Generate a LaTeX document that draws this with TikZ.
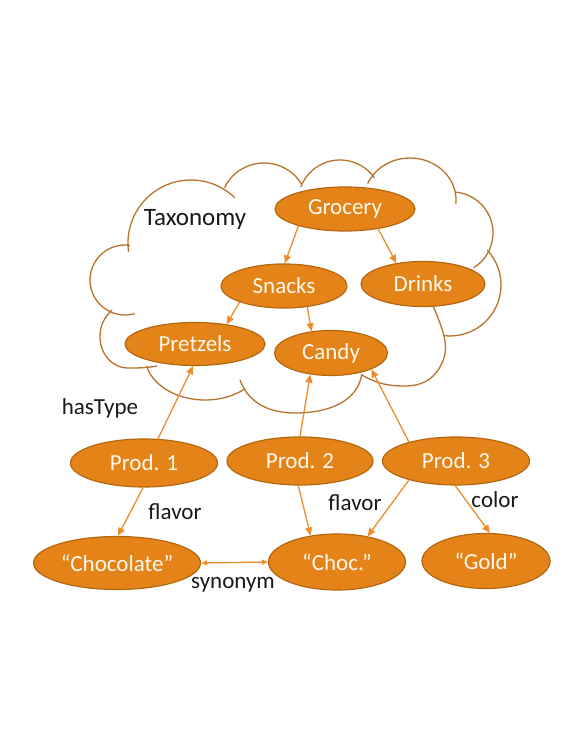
\documentclass[tikz,border=0pt]{standalone}
\usepackage{fontspec}
\setmainfont{Carlito}
\usetikzlibrary{arrows.meta,positioning,shapes}
\definecolor{nodefill}{HTML}{E38318}
\definecolor{nodeline}{HTML}{B5670F}
\definecolor{arrowline}{HTML}{EE8C2E}
\definecolor{cloudline}{HTML}{B8732C}
\definecolor{nodetext}{HTML}{FFF8EE}

\begin{document}
\begin{tikzpicture}[x=1pt,y=1pt,
  ent/.style={ellipse,draw=nodeline,fill=nodefill,line width=1.2pt,inner sep=0pt,text=nodetext,font=\fontsize{23}{27}\selectfont},
  lbl/.style={inner sep=0pt,text=black!90,font=\fontsize{23}{27}\selectfont},
  lobe/.style={draw=cloudline,line width=1.3pt},
  link/.style={draw=arrowline,line width=1.3pt,-{Triangle[length=8pt,width=7pt]}}]
\fill[white] (0,0) rectangle (581,752);
\useasboundingbox (0,0) rectangle (581,752);
% cloud around the taxonomy
\draw[lobe] (125,472) ++(-74:35pt) arc[start angle=-74,end angle=-278,radius=35pt];
\draw[lobe] (191,509) ++(188:63pt) arc[start angle=188,end angle=46,radius=63pt];
\draw[lobe] (264,545) ++(154:44pt) arc[start angle=154,end angle=31,radius=44pt];
\draw[lobe] (340,550) ++(159:42pt) arc[start angle=159,end angle=35,radius=42pt];
\draw[lobe] (410,552) ++(157:46pt and 42pt) arc[start angle=157,end angle=-5,x radius=46pt,y radius=42pt];
\draw[lobe] (452,519) ++(86:41pt) arc[start angle=86,end angle=-58,radius=41pt];
\draw[lobe] (450,467) ++(43:51pt) arc[start angle=43,end angle=-96,radius=51pt];
\draw[lobe] (433,447) to[out=-70,in=60] (440,385) to[out=240,in=0] (405,366) to[out=180,in=-30] (362,377);
\draw[lobe] (240,372) to[out=-70,in=180] (295,339) to[out=0,in=-100] (362,378);
\draw[lobe] (205,396) ++(193:60pt and 44pt) arc[start angle=193,end angle=312,x radius=60pt,y radius=44pt];
\draw[lobe] (112,442) to[out=225,in=90] (100,415) to[out=270,in=180] (128,384) to[out=0,in=190] (157,386);
\node[lbl,font=\fontsize{25}{29}\selectfont] (tax) at (195,532) {Taxonomy};
% taxonomy
\node[ent,minimum width=140pt,minimum height=44pt] (gr) at (345,543) {Grocery};
\node[ent,minimum width=126pt,minimum height=44pt] (sn) at (284,466) {Snacks};
\node[ent,minimum width=124pt,minimum height=45pt] (dr) at (423,468) {Drinks};
\node[ent,minimum width=140pt,minimum height=43pt] (pr) at (195,408) {Pretzels};
\node[ent,minimum width=113pt,minimum height=45pt] (ca) at (331,399) {Candy};
% products and values
\node[ent,minimum width=147pt,minimum height=48pt] (p1) at (144,289) {Prod. 1};
\node[ent,minimum width=146pt,minimum height=48pt] (p2) at (300,291) {Prod. 2};
\node[ent,minimum width=147pt,minimum height=48pt] (p3) at (456,291) {Prod. 3};
\node[ent,minimum width=167pt,minimum height=53pt] (ch) at (117,189) {“Chocolate”};
\node[ent,minimum width=137pt,minimum height=56pt] (cc) at (337,190) {“Choc.”};
\node[ent,minimum width=128pt,minimum height=55pt] (go) at (486,191) {“Gold”};
\draw[link] (gr.200) -- (sn.88);
\draw[link] (gr.329) -- (dr.142);
\draw[link] (sn.200) -- (pr.32);
\draw[link] (sn.318) -- (ca.132);
\draw[link] (p1.60) -- (pr.265);
\draw[link] (p2.90) -- (ca.226);
\draw[link] (p3.158) -- (ca.338);
\draw[link] (p1.268) -- (ch.88);
\draw[link] (p2.266) -- (cc.135);
\draw[link] (p3.202) -- (cc.40);
\draw[link] (p3.268) -- (go.82);
\draw[link,{Triangle[length=6pt,width=5pt]}-{Triangle[length=6pt,width=5pt]}] (ch.east) -- (cc.west);
\node[lbl] (ht) at (100,344) {hasType};
\node[lbl] (fl1) at (175,240) {flavor};
\node[lbl] (fl2) at (355,249) {flavor};
\node[lbl] (co) at (495,252) {color};
\node[lbl] (sy) at (233,167) {synonym};
\end{tikzpicture}
\end{document}
